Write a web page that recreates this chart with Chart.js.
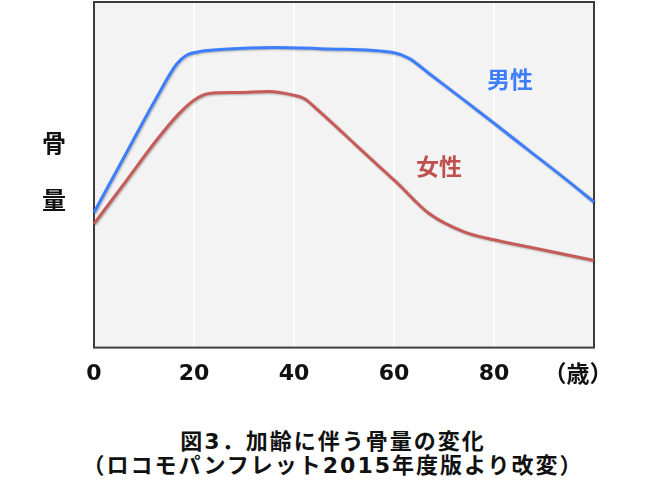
<!DOCTYPE html>
<html lang="ja">
<head>
<meta charset="utf-8">
<script src="https://cdn.jsdelivr.net/npm/chart.js@4/dist/chart.umd.min.js"></script>
<style>
	html, body { margin: 0; padding: 0; background: #fff; }
	#wrap { position: relative; width: 670px; height: 496px; overflow: hidden; }
	#chart { position: absolute; left: 0; top: 0; }
	.lbl { position: absolute; font-family: 'DejaVu Sans', 'Noto Sans CJK JP', sans-serif; font-weight: 700; white-space: nowrap; transform: translate(-50%, -50%); line-height: 1; }
	#title { position: absolute; left: 0; top: 430px; width: 666px; text-align: center; font-family: 'DejaVu Sans', 'Noto Sans CJK JP', sans-serif; font-weight: 700; font-size: 22px; letter-spacing: 2px; line-height: 24px; color: #111; }
</style>
</head>
<body>
<div id="wrap">
	<canvas id="chart" width="670" height="415"></canvas>
	<div class="lbl" style="left:54px;top:144px;font-size:24px;color:#111;">骨</div>
	<div class="lbl" style="left:54px;top:201px;font-size:24px;color:#111;">量</div>
	<div class="lbl" style="left:510px;top:80px;font-size:23px;color:#3d7eff;">男性</div>
	<div class="lbl" style="left:439px;top:167px;font-size:23px;color:#c0504d;">女性</div>
	<div class="lbl" style="left:578px;top:374px;font-size:23px;color:#111;">（歳）</div>
	<div id="title">図3．加齢に伴う骨量の変化<br>（ロコモパンフレット2015年度版より改変）</div>
</div>
<script>
	'use strict';

	var xTicks = [0, 20, 40, 60, 80];

	var menAge = [0, 6, 12.5, 16.5, 18.5, 21, 26, 36, 47, 60, 63, 67, 74, 80, 87, 94, 100];
	var menBoneMass = [39.1, 55.1, 72.3, 82.0, 84.6, 85.6, 86.3, 86.8, 86.4, 85.3, 83.7, 79.3, 71.6, 64.9, 57.0, 49.1, 42.1];

	var womenAge = [0, 6, 12.5, 17, 20, 23, 29, 35, 40, 42, 45, 50, 54, 60.5, 67, 74, 80, 87, 100];
	var womenBoneMass = [35.8, 47.4, 60, 67.7, 71.6, 73.5, 73.8, 74.1, 73, 72.1, 68.4, 61.8, 56.4, 47.8, 38.8, 33.5, 31.2, 29.1, 25.2];

	function toPoints(xs, ys) {
		return xs.map(function (x, i) { return { x: x, y: ys[i] }; });
	}

	var plotFrame = {
		id: 'plotFrame',
		beforeDraw: function (chart) {
			var a = chart.chartArea, ctx = chart.ctx;
			ctx.save();
			ctx.fillStyle = '#f3f3f3';
			ctx.fillRect(a.left, a.top, a.right - a.left, a.bottom - a.top);
			ctx.restore();
		},
		beforeDatasetsDraw: function (chart) {
			var a = chart.chartArea, ctx = chart.ctx;
			ctx.save();
			ctx.strokeStyle = '#3c3c3c';
			ctx.lineWidth = 2;
			ctx.strokeRect(a.left, a.top, a.right - a.left, a.bottom - a.top);
			ctx.restore();
			ctx.save();
			ctx.shadowColor = 'rgba(0,0,0,0.28)';
			ctx.shadowBlur = 2;
			ctx.shadowOffsetX = 1;
			ctx.shadowOffsetY = 1;
		},
		afterDatasetsDraw: function (chart) {
			chart.ctx.restore();
		}
	};

	new Chart(document.getElementById('chart'), {
		type: 'line',
		data: {
			datasets: [{
				label: '男性',
				data: toPoints(menAge, menBoneMass),
				borderColor: '#3d7eff',
				borderWidth: 3,
				pointRadius: 0,
				cubicInterpolationMode: 'monotone',
				fill: false
			}, {
				label: '女性',
				data: toPoints(womenAge, womenBoneMass),
				borderColor: '#c65b57',
				borderWidth: 3,
				pointRadius: 0,
				cubicInterpolationMode: 'monotone',
				fill: false
			}]
		},
		options: {
			responsive: false,
			animation: false,
			clip: false,
			layout: { padding: { left: 94, right: 76, top: 2, bottom: 15 } },
			plugins: { legend: { display: false }, tooltip: { enabled: false } },
			scales: {
				x: {
					type: 'linear',
					min: 0,
					max: 100,
					afterBuildTicks: function (scale) {
						scale.ticks = xTicks.map(function (v) { return { value: v }; });
					},
					border: { display: false },
					grid: {
						drawTicks: false,
						lineWidth: 2,
						color: function (ctx) {
							var v = ctx.tick && ctx.tick.value;
							return (v > 0 && v < 100) ? '#ffffff' : 'rgba(0,0,0,0)';
						}
					},
					ticks: {
						autoSkip: false,
						maxRotation: 0,
						padding: 13,
						color: '#111',
						font: { family: "'DejaVu Sans', sans-serif", size: 22, weight: 'bold' }
					}
				},
				y: {
					min: 0,
					max: 100,
					display: false
				}
			}
		},
		plugins: [plotFrame]
	});
</script>
</body>
</html>
